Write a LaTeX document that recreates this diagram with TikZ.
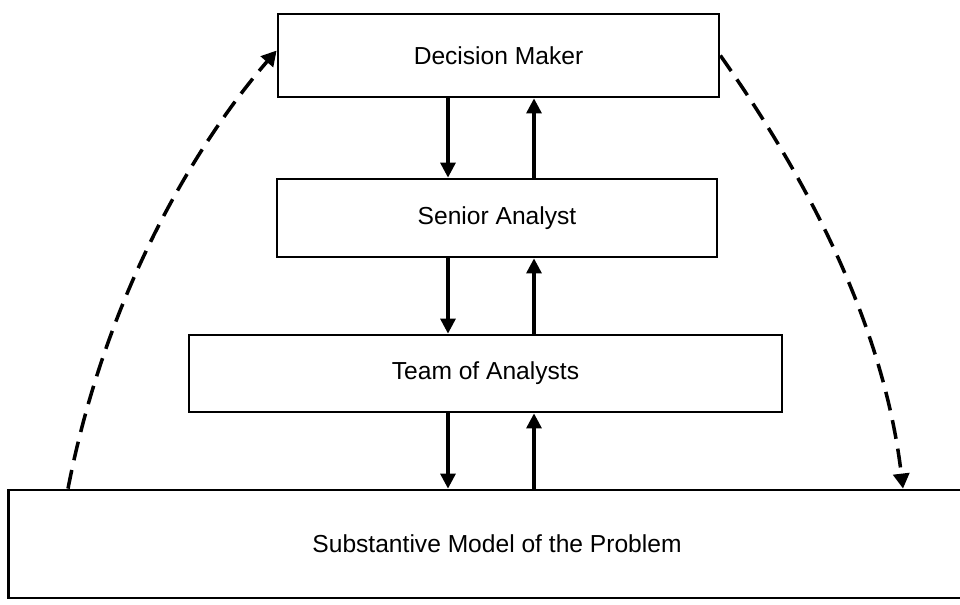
\documentclass[tikz,border=0pt]{standalone}
\usepackage{fontspec}
\setmainfont{Liberation Sans}
\usetikzlibrary{arrows.meta}
\begin{document}
\begin{tikzpicture}[x=0.02cm,y=-0.02cm,
  box/.style={draw,line width=1.6pt,fill=white,inner sep=0pt,
    font=\fontsize{14}{16}\selectfont},
  flow/.style={line width=1.8pt,-{Triangle[length=0.3cm,width=0.3cm]}},
  dashflow/.style={line width=2pt,dash pattern=on 0.38cm off 0.2cm,
    -{Triangle[length=0.3cm,width=0.32cm]}}]
\useasboundingbox (0,0) rectangle (960,605);

% boxes of the hierarchy
\node[box,minimum width=8.82cm,minimum height=1.66cm] (dm) at (498.5,55.5) {Decision Maker};
\node[box,minimum width=8.80cm,minimum height=1.56cm] (sa) at (497,218) {Senior Analyst};
\node[box,minimum width=11.86cm,minimum height=1.54cm] (ta) at (485.5,373.5) {Team of Analysts};
\node[box,minimum width=19.56cm,minimum height=2.16cm] (sm) at (497,544) {Substantive Model of the Problem};

% columns of the vertical links
\coordinate (xd) at (448,0);
\coordinate (xu) at (534,0);
\coordinate (xl) at (68,0);
\coordinate (xr) at (903,0);

% downward and upward links between levels
\draw[flow] (dm.south -| xd) -- (sa.north -| xd);
\draw[flow] (sa.north -| xu) -- (dm.south -| xu);
\draw[flow] (sa.south -| xd) -- (ta.north -| xd);
\draw[flow] (ta.north -| xu) -- (sa.south -| xu);
\draw[flow] (ta.south -| xd) -- (sm.north -| xd);
\draw[flow] (sm.north -| xu) -- (ta.south -| xu);

% direct links between the decision maker and the model
\draw[dashflow] (sm.north -| xl) .. controls (108,282) and (205,133) .. ([yshift=0.1cm]dm.west);
\draw[dashflow] (dm.east) .. controls (784,146) and (881,302) .. (sm.north -| xr);
\end{tikzpicture}
\end{document}
